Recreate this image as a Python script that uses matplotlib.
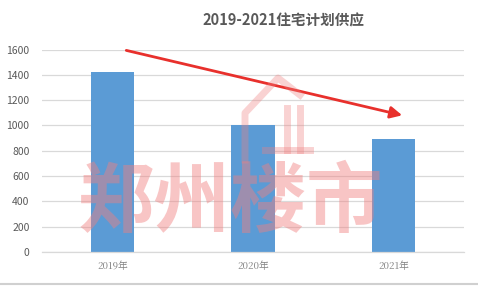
import matplotlib
matplotlib.use('Agg')
import matplotlib.pyplot as plt
from matplotlib.lines import Line2D

plt.rcParams['font.family'] = ['Noto Sans CJK SC', 'DejaVu Sans']

years = ['2019年', '2020年', '2021年']
supply = [1420, 1000, 890]
yticks = [0, 200, 400, 600, 800, 1000, 1200, 1400, 1600]

fig = plt.figure(figsize=(4.78, 2.86), dpi=100)
ax = fig.add_axes([42/478, 1 - 252/286, 422/478, 202.5/286])

x = range(len(years))
ax.bar(x, supply, width=0.31, color='#5b9bd5', zorder=2)
ax.set_xlim(-0.5, 2.5)
ax.set_ylim(0, 1600)
ax.set_yticks(yticks)
ax.set_xticks(list(x))
ax.set_xticklabels(years, fontsize=7, color='#7f7f7f', family=['Noto Serif CJK SC', 'Noto Sans CJK SC', 'DejaVu Sans'])
ax.tick_params(axis='y', labelsize=7.5, labelcolor='#595959', length=0, pad=9)
ax.tick_params(axis='x', length=0, pad=7)
ax.grid(axis='y', color='#d9d9d9', linewidth=0.9, zorder=0)
for s in ['top', 'right', 'left']:
    ax.spines[s].set_visible(False)
ax.spines['bottom'].set_color('#d9d9d9')
ax.spines['bottom'].set_linewidth(0.9)

# trend arrow
ax.annotate('', xy=(2.08, 1075), xytext=(0.08, 1598),
            arrowprops=dict(arrowstyle='-|>,head_length=0.7,head_width=0.35',
                            color='#e8302c', lw=2.0), zorder=5)

# watermark
fig.text(230/478, 1 - 203/286, '郑州楼市', fontsize=55, fontweight='heavy',
         color='#f08080', alpha=0.45, ha='center', va='center', zorder=10)
logo = [([245, 245, 278, 300], [160, 113, 78, 95]),
        ([287, 287], [108, 150]), ([300, 300], [108, 150]),
        ([265, 310], [150, 150])]
for lx, ly in logo:
    fig.add_artist(Line2D([v/478 for v in lx], [1 - v/286 for v in ly],
                          color='#f08080', alpha=0.35, lw=5, zorder=10))

fig.text(283/478, 1 - 20/286, '2019-2021住宅计划供应', fontsize=10.5,
         fontweight='bold', color='#595959', ha='center', va='center')

# bottom frame line
fig.add_artist(Line2D([0, 1], [1 - 284/286] * 2, color='#d0d0d0', lw=1.5))

fig.savefig('out.png', dpi=100, facecolor='white')
